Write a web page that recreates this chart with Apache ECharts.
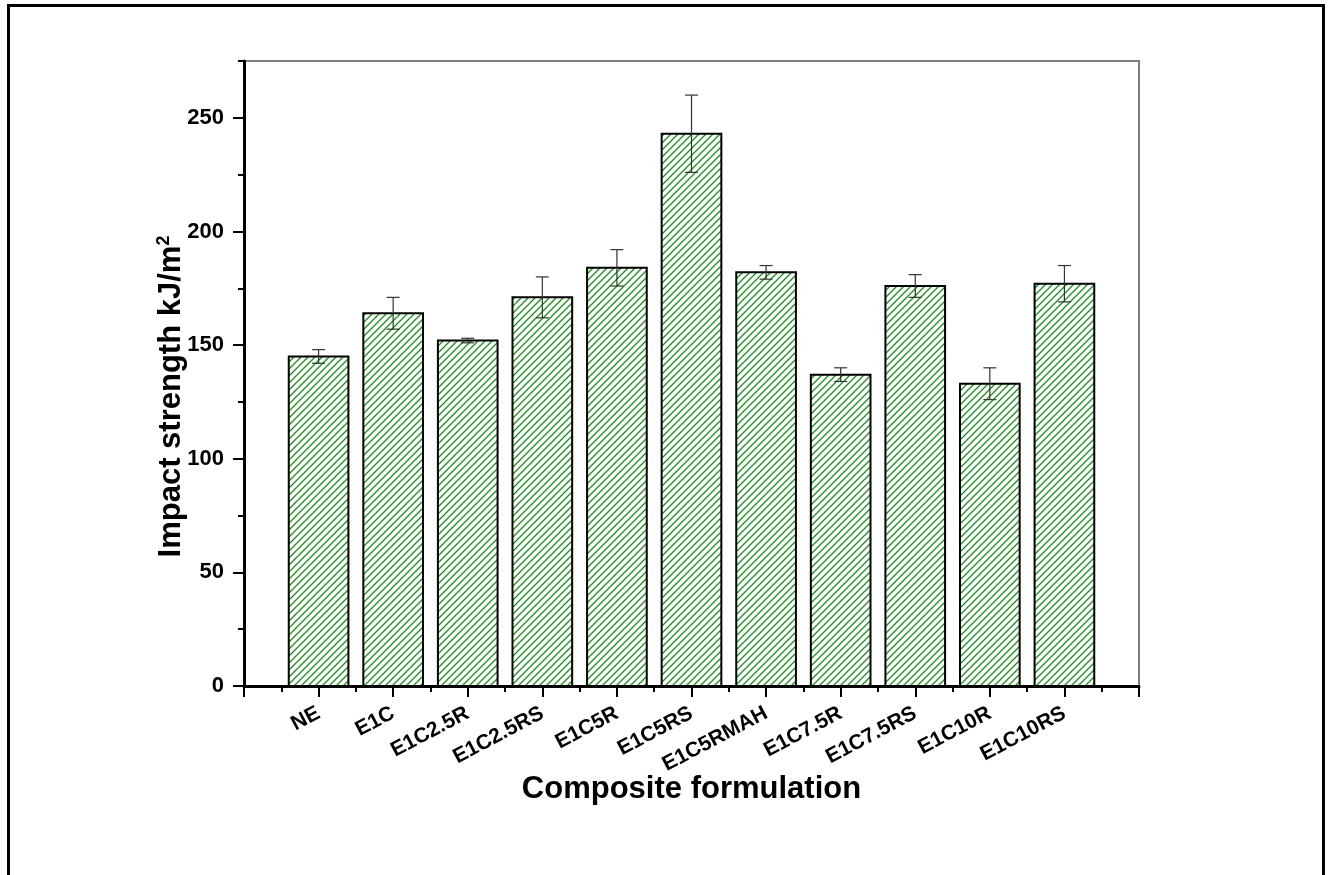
<!DOCTYPE html>
<html>
<head>
<meta charset="utf-8">
<script src="https://cdn.jsdelivr.net/npm/echarts@6/dist/echarts.min.js"></script>
<style>
html,body{margin:0;padding:0;background:#fff;}
#chart{width:1331px;height:875px;}
</style>
</head>
<body>
<div id="chart"></div>
<script>
const categories = ['NE','E1C','E1C2.5R','E1C2.5RS','E1C5R','E1C5RS','E1C5RMAH','E1C7.5R','E1C7.5RS','E1C10R','E1C10RS'];
const strength = [145,164,152,171,184,243,182,137,176,133,177];
const errors = [3,7,1,9,8,17,3,3,5,7,8];
const yTickLabels = [0,50,100,150,200,250];

const FONT = 'Liberation Sans, Arial, sans-serif';

// hatch pattern
const tile = document.createElement('canvas');
tile.width = 7; tile.height = 7;
const tc = tile.getContext('2d');
tc.fillStyle = '#ffffff';
tc.fillRect(0,0,7,7);
tc.strokeStyle = '#1e8e1e';
tc.lineWidth = 1.3;
tc.beginPath();
tc.moveTo(-1,8); tc.lineTo(8,-1);
tc.moveTo(-1,1); tc.lineTo(1,-1);
tc.moveTo(6,8); tc.lineTo(8,6);
tc.stroke();
const hatch = {image: tile, repeat: 'repeat'};

const barData = strength.map((v,i)=>[i+1, v]);
const errData = strength.map((v,i)=>[i+1, v-errors[i], v+errors[i]]);

const chart = echarts.init(document.getElementById('chart'), null, {renderer:'canvas'});
chart.setOption({
  animation:false,
  backgroundColor:'#fff',
  graphic:[{
    type:'rect', silent:true,
    shape:{x:8.5, y:5.5, width:1315, height:900},
    style:{fill:'none', stroke:'#000', lineWidth:3}
  }],
  grid:{left:244, right:192, top:61, bottom:189, show:true, borderColor:'#808080', borderWidth:2, backgroundColor:'transparent'},
  xAxis:{
    type:'value', min:0, max:12, interval:1,
    splitLine:{show:false},
    axisLine:{show:true, lineStyle:{color:'#000', width:3}},
    axisTick:{show:true, length:11, lineStyle:{color:'#000', width:2}},
    minorTick:{show:true, splitNumber:2, length:6, lineStyle:{color:'#000', width:2}},
    axisLabel:{
      rotate:28, margin:26,
      fontFamily:FONT, fontWeight:'bold', fontSize:21, color:'#000',
      formatter:function(v){ return categories[v-1] || ''; }
    },
    name:'Composite formulation', nameLocation:'middle', nameGap:88, nameMoveOverlap:false,
    nameTextStyle:{fontFamily:FONT, fontWeight:'bold', fontSize:31, color:'#000'}
  },
  yAxis:[{
    type:'value', min:0, max:275, interval:25, position:'left',
    splitLine:{show:false},
    axisLine:{show:true, lineStyle:{color:'#000', width:3}},
    axisTick:{show:true, length:6, lineStyle:{color:'#000', width:2}},
    axisLabel:{
      customValues:yTickLabels, margin:20,
      fontFamily:FONT, fontWeight:'bold', fontSize:22, color:'#000'
    },
    name:'{a|Impact strength kJ/m}{s|2}', nameLocation:'middle', nameGap:57, nameRotate:90, nameMoveOverlap:false,
    nameTextStyle:{
      padding:[0,46,0,0],
      rich:{
        a:{fontFamily:FONT, fontWeight:'bold', fontSize:31, color:'#000'},
        s:{fontFamily:FONT, fontWeight:'bold', fontSize:18, color:'#000', verticalAlign:'top', padding:[0,0,14,0]}
      }
    }
  },{
    type:'value', min:0, max:275, interval:25, position:'left',
    splitLine:{show:false},
    axisLine:{show:false},
    axisTick:{show:true, customValues:yTickLabels, length:11, lineStyle:{color:'#000', width:2}},
    axisLabel:{show:false}
  }],
  series:[{
    type:'custom',
    xAxisIndex:0, yAxisIndex:0,
    data:barData,
    encode:{x:0, y:1},
    renderItem:function(params, api){
      const x = api.value(0), v = api.value(1);
      const p0 = api.coord([x-0.4, v]);
      const p1 = api.coord([x+0.4, 0]);
      return {
        type:'rect',
        shape:{x:p0[0], y:p0[1], width:p1[0]-p0[0], height:p1[1]-p0[1]},
        style:{fill:hatch, stroke:'#000', lineWidth:2}
      };
    },
    z:2
  },{
    type:'custom',
    xAxisIndex:0, yAxisIndex:0,
    data:errData,
    encode:{x:0, y:[1,2]},
    renderItem:function(params, api){
      const x = api.value(0);
      const lo = api.coord([x, api.value(1)]);
      const hi = api.coord([x, api.value(2)]);
      const hw = 6.5;
      const st = {stroke:'#333', lineWidth:1.2};
      return {
        type:'group',
        children:[
          {type:'line', shape:{x1:hi[0], y1:hi[1], x2:lo[0], y2:lo[1]}, style:st},
          {type:'line', shape:{x1:hi[0]-hw, y1:hi[1], x2:hi[0]+hw, y2:hi[1]}, style:st},
          {type:'line', shape:{x1:lo[0]-hw, y1:lo[1], x2:lo[0]+hw, y2:lo[1]}, style:st}
        ]
      };
    },
    z:3
  }]
});
</script>
</body>
</html>
